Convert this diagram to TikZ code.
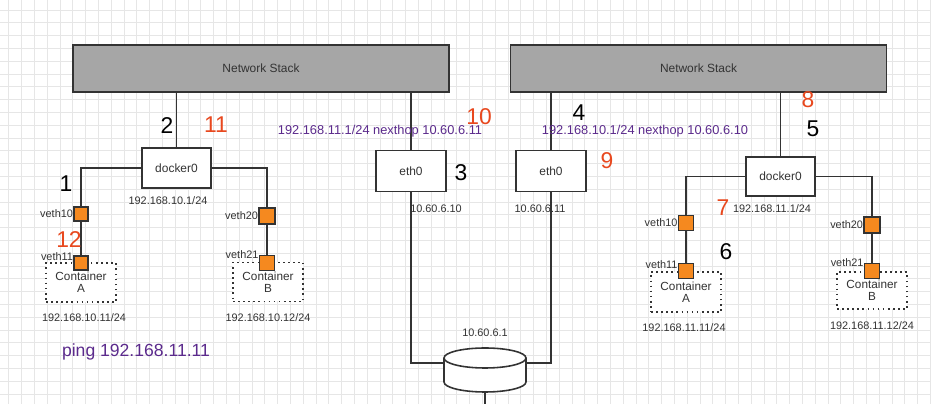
\documentclass[tikz,border=0pt]{standalone}
\usepackage{fontspec}
\setmainfont{Liberation Sans}

\definecolor{stackgray}{HTML}{A6A6A6}
\definecolor{numred}{HTML}{E8481E}
\definecolor{routepurple}{HTML}{5B2A8C}
\definecolor{vethorange}{HTML}{F5891F}
\definecolor{linegray}{HTML}{333333}
\definecolor{gridgray}{HTML}{E6E6E6}

\tikzset{
  stack/.style={shape=rectangle, draw=linegray, line width=1pt, fill=stackgray, minimum width=7.52cm, minimum height=0.94cm, font=\fontsize{6.8}{8}\selectfont, text=linegray},
  iface/.style={shape=rectangle, draw=linegray, line width=0.9pt, fill=white, minimum width=1.4cm, minimum height=0.82cm, font=\fontsize{6.8}{8}\selectfont, text=linegray},
  veth/.style={shape=rectangle, draw=linegray, line width=0.8pt, fill=vethorange, minimum size=0.3cm, inner sep=0pt, label distance=1pt},
  cont/.style={shape=rectangle, draw=linegray, dotted, line width=0.9pt, fill=white, minimum width=1.4cm, minimum height=0.78cm, align=center, inner sep=1pt, font=\fontsize{6.7}{6.8}\selectfont, text=linegray},
  lbl/.style={text=linegray, font=\fontsize{6.2}{7}\selectfont, inner sep=0pt},
  num/.style={font=\fontsize{13}{14}\selectfont, inner sep=0pt},
  route/.style={text=routepurple, font=\fontsize{7.3}{8}\selectfont, inner sep=0pt},
  wire/.style={draw=linegray, line width=0.9pt},
}

\begin{document}
\begin{tikzpicture}[x=0.02cm, y=-0.02cm]

	\useasboundingbox (0,0) rectangle (950,404);
	\fill[white] (0,0) rectangle (950,404);
	
	% grid
	\foreach \gx in {0,...,72}
	    \draw[gridgray, line width=0.5pt] (8.9+12.8*\gx,0) -- (8.9+12.8*\gx,404);
	\foreach \gy in {0,...,30}
	    \draw[gridgray, line width=0.5pt] (0,10+12.8*\gy) -- (930,10+12.8*\gy);
	
	\node[stack] (stackL) at (261, 68.5)  {Network Stack};
	\node[stack] (stackR) at (698.5, 68.5) {Network Stack};
	
	\node[iface, minimum width=1.38cm, minimum height=0.8cm] (dockerL) at (176.5, 168) {docker0};
	\node[iface] (ethL) at (411, 171) {eth0};
	\node[iface] (ethR) at (551, 171) {eth0};
	\node[iface, minimum width=1.38cm, minimum height=0.78cm] (dockerR) at (780.5, 176.5) {docker0};
	
	\node[cont] (contLA) at (81, 282.5)  {Container\\A};
	\node[cont] (contLB) at (268, 282)   {Container\\B};
	\node[cont, minimum height=0.8cm] (contRA) at (686, 292) {Container\\A};
	\node[cont, minimum height=0.74cm] (contRB) at (872, 290.5) {Container\\B};
	
	\node[veth, minimum size=0.28cm, label={[lbl]left:veth10}] (vethL10) at (81, 214) {};
	\node[veth, minimum size=0.28cm, label={[lbl, yshift=0.12cm]left:veth11}] (vethL11) at (81, 263) {};
	\node[veth, minimum size=0.32cm, label={[lbl]left:veth20}] (vethL20) at (267, 216) {};
	\node[veth, label={[lbl, yshift=0.16cm]left:veth21}] (vethL21) at (267, 263) {};
	
	\node[veth, label={[lbl]left:veth10}] (vethR10) at (686, 223) {};
	\node[veth, label={[lbl, yshift=0.12cm]left:veth11}] (vethR11) at (686, 271) {};
	\node[veth, minimum size=0.32cm, label={[lbl]left:veth20}] (vethR20) at (872, 225) {};
	\node[veth, label={[lbl, yshift=0.16cm]left:veth21}] (vethR21) at (872, 271) {};
	
	% router
	\coordinate (routerL) at (444, 363);
	\coordinate (routerR) at (526, 363);
	\coordinate (routerB) at (485, 392);
	\coordinate (wireEnd) at (485, 404);
	
	\path[wire] (dockerL) -- (dockerL |- stackL.south);
	\path[wire] (dockerL.west) -| (vethL10);
	\path[wire] (dockerL.east) -| (vethL20);
	\path[wire] (vethL10) -- (vethL11);
	\path[wire] (vethL20) -- (vethL21);
	
	\path[wire] (ethL) -- (ethL |- stackL.south);
	\path[wire] (ethR) -- (ethR |- stackR.south);
	\path[wire] (ethL.south) |- (routerL);
	\path[wire] (ethR.south) |- (routerR);
	\path[wire] (routerB) -- (wireEnd);
	
	\path[wire] (dockerR) -- (dockerR |- stackR.south);
	\path[wire] (dockerR.west) -| (vethR10);
	\path[wire] (dockerR.east) -| (vethR20);
	\path[wire] (vethR10) -- (vethR11);
	\path[wire] (vethR20) -- (vethR21);
	
	\draw[wire, fill=white] (444, 358) -- (444, 382) arc[start angle=180, end angle=360, x radius=0.82cm, y radius=0.2cm] -- (526, 358);
	\draw[wire, fill=white] (485, 358) ellipse [x radius=0.82cm, y radius=0.2cm];
	
	% addresses
	\node[lbl] (ipDockerL) at (168, 201)   {192.168.10.1/24};
	\node[lbl] (ipEthL)    at (436, 209)   {10.60.6.10};
	\node[lbl] (ipEthR)    at (540, 209)   {10.60.6.11};
	\node[lbl] (ipRouter)  at (485, 333)   {10.60.6.1};
	\node[lbl] (ipDockerR) at (772, 209)   {192.168.11.1/24};
	\node[lbl] (ipLA)      at (84, 318)    {192.168.10.11/24};
	\node[lbl] (ipLB)      at (268, 318)   {192.168.10.12/24};
	\node[lbl] (ipRA)      at (684, 328)   {192.168.11.11/24};
	\node[lbl] (ipRB)      at (872, 326)   {192.168.11.12/24};
	
	\node[route] (routeL) at (380, 131) {192.168.11.1/24 nexthop 10.60.6.11};
	\node[route] (routeR) at (645, 131) {192.168.10.1/24 nexthop 10.60.6.10};
	\node[route, font=\fontsize{10}{12}\selectfont] (ping) at (136, 352) {ping 192.168.11.11};
	
	% steps
	\node[num] (s1)  at (66, 184)  {1};
	\node[num] (s2)  at (167, 126) {2};
	\node[num] (s3)  at (461, 173) {3};
	\node[num] (s4)  at (579, 113) {4};
	\node[num] (s5)  at (813, 129) {5};
	\node[num] (s6)  at (726, 252) {6};
	\node[num, text=numred] (s7)  at (723, 208) {7};
	\node[num, text=numred] (s8)  at (808, 100) {8};
	\node[num, text=numred] (s9)  at (607, 161) {9};
	\node[num, text=numred] (s10) at (479, 117) {10};
	\node[num, text=numred] (s11) at (216, 125) {11};
	\node[num, text=numred] (s12) at (69, 240)  {12};
	
\end{tikzpicture}
\end{document}
